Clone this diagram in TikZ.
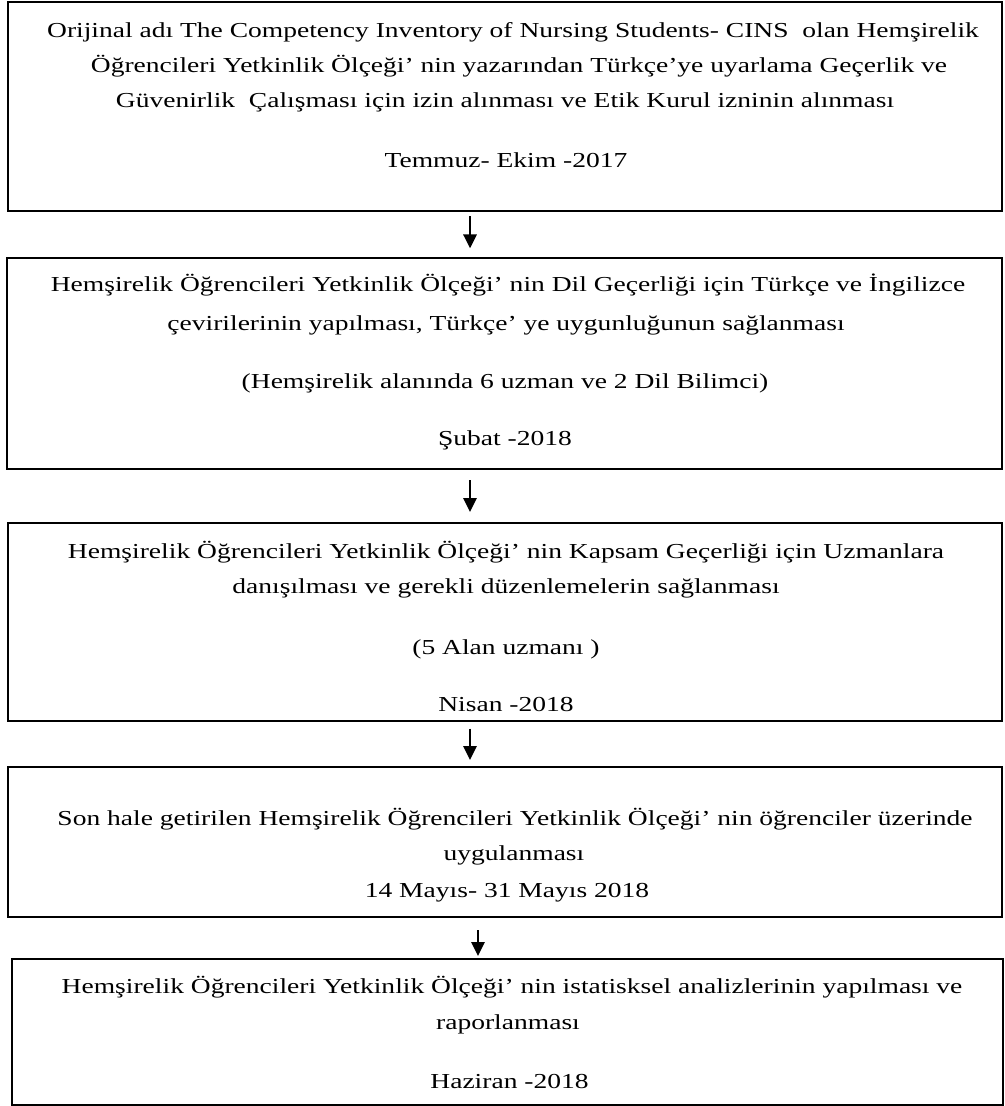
\documentclass[tikz,border=0pt]{standalone}
\usepackage{fontspec}
\setmainfont[FakeStretch=1.29]{Liberation Serif}
\usetikzlibrary{arrows.meta}
\begin{document}
\begin{tikzpicture}[x=0.75pt,y=-0.75pt,
  box/.style={draw=black,line width=1.5pt,rectangle,inner sep=0pt},
  ln/.style={anchor=base,inner sep=0pt,font=\fontsize{16}{19}\selectfont},
  arr/.style={line width=1.6pt,-{Triangle[length=10.5pt,width=10pt]}}]
\useasboundingbox (0,0) rectangle (1004,1106);
% boxes
\node[box,minimum width=745.5pt,minimum height=156.75pt] (b1) at (505,106.5) {};
\node[box,minimum width=746.25pt,minimum height=158.25pt] (b2) at (504.5,363.5) {};
\node[box,minimum width=745.5pt,minimum height=148.5pt] (b3) at (505,622) {};
\node[box,minimum width=745.5pt,minimum height=112.5pt] (b4) at (505,842) {};
\node[box,minimum width=743.25pt,minimum height=109.5pt] (b5) at (507.5,1032) {};
% box 1 text
\node[ln] (t1a) at (513,37.5) {Orijinal adı The Competency Inventory of Nursing Students- CINS\ \ olan Hemşirelik};
\node[ln] (t1b) at (519,72.7) {Öğrencileri Yetkinlik Ölçeği’ nin yazarından Türkçe’ye uyarlama Geçerlik ve};
\node[ln] (t1c) at (505,108) {Güvenirlik\ \ Çalışması için izin alınması ve Etik Kurul izninin alınması};
\node[ln] (t1d) at (506,167) {Temmuz- Ekim -2017};
% box 2 text
\node[ln] (t2a) at (508,291.7) {Hemşirelik Öğrencileri Yetkinlik Ölçeği’ nin Dil Geçerliği için Türkçe ve İngilizce};
\node[ln] (t2b) at (506,330) {çevirilerinin yapılması, Türkçe’ ye uygunluğunun sağlanması};
\node[ln] (t2c) at (505,388) {(Hemşirelik alanında 6 uzman ve 2 Dil Bilimci)};
\node[ln] (t2d) at (505,445.7) {Şubat -2018};
% box 3 text
\node[ln] (t3a) at (506,558) {Hemşirelik Öğrencileri Yetkinlik Ölçeği’ nin Kapsam Geçerliği için Uzmanlara};
\node[ln] (t3b) at (506,593) {danışılması ve gerekli düzenlemelerin sağlanması};
\node[ln] (t3c) at (506,654) {(5 Alan uzmanı )};
\node[ln] (t3d) at (506,711) {Nisan -2018};
% box 4 text
\node[ln] (t4a) at (515,825) {Son hale getirilen Hemşirelik Öğrencileri Yetkinlik Ölçeği’ nin öğrenciler üzerinde};
\node[ln] (t4b) at (514,860) {uygulanması};
\node[ln] (t4c) at (507,897) {14 Mayıs- 31 Mayıs 2018};
% box 5 text
\node[ln] (t5a) at (512,993) {Hemşirelik Öğrencileri Yetkinlik Ölçeği’ nin istatisksel analizlerinin yapılması ve};
\node[ln] (t5b) at (508,1029) {raporlanması};
\node[ln] (t5c) at (509.5,1088) {Haziran -2018};
% arrows
\coordinate (x1) at (470,0);
\coordinate (x4) at (478,0);
\draw[arr,shorten <=3pt,shorten >=6.5pt] (b1.south -| x1) -- (b2.north -| x1);
\draw[arr,shorten <=7.5pt,shorten >=7.5pt] (b2.south -| x1) -- (b3.north -| x1);
\draw[arr,shorten <=5pt,shorten >=4.5pt] (b3.south -| x1) -- (b4.north -| x1);
\draw[arr,shorten <=9pt,shorten >=1.5pt] (b4.south -| x4) -- (b5.north -| x4);
\end{tikzpicture}
\end{document}
